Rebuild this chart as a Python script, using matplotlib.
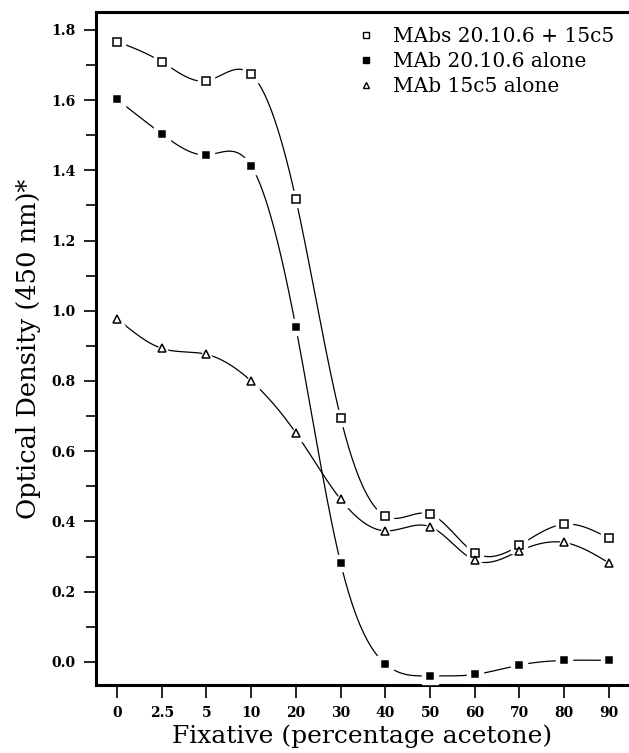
import numpy as np
import matplotlib
matplotlib.use("Agg")
import matplotlib.pyplot as plt
from matplotlib.lines import Line2D
from matplotlib.ticker import MultipleLocator

# fixative concentrations (categorical, evenly spaced on the plot)
fixative = ["0", "2.5", "5", "10", "20", "30", "40", "50", "60", "70", "80", "90"]

both_mabs = [1.767, 1.709, 1.655, 1.674, 1.318, 0.696, 0.415, 0.421, 0.311, 0.332, 0.392, 0.352]
mab_20106 = [1.602, 1.504, 1.444, 1.413, 0.953, 0.282, -0.006, -0.040, -0.036, -0.009, 0.004, 0.004]
mab_15c5 = [0.978, 0.893, 0.876, 0.800, 0.652, 0.463, 0.373, 0.385, 0.289, 0.316, 0.340, 0.282]

labels = ["MAbs 20.10.6 + 15c5", "MAb 20.10.6 alone", "MAb 15c5 alone"]

serif = "DejaVu Serif"


def natural_spline(x, y, per_seg=40):
    x = np.asarray(x, float)
    y = np.asarray(y, float)
    n = len(x)
    h = np.diff(x)
    A = np.zeros((n, n))
    b = np.zeros(n)
    A[0, 0] = 1
    A[-1, -1] = 1
    for i in range(1, n - 1):
        A[i, i - 1] = h[i - 1]
        A[i, i] = 2 * (h[i - 1] + h[i])
        A[i, i + 1] = h[i]
        b[i] = 6 * ((y[i + 1] - y[i]) / h[i] - (y[i] - y[i - 1]) / h[i - 1])
    M = np.linalg.solve(A, b)
    xs, ys = [], []
    for i in range(n - 1):
        t = np.linspace(x[i], x[i + 1], per_seg)
        a = x[i + 1] - t
        c = t - x[i]
        s = (M[i] * a ** 3 + M[i + 1] * c ** 3) / (6 * h[i]) \
            + (y[i] / h[i] - M[i] * h[i] / 6) * a \
            + (y[i + 1] / h[i] - M[i + 1] * h[i] / 6) * c
        xs.append(t)
        ys.append(s)
    return np.concatenate(xs), np.concatenate(ys)


fig = plt.figure(figsize=(6.29, 7.53), dpi=100)
ax = fig.add_axes([0.1526, 0.0903, 0.8474, 0.8937])

xpos = np.arange(len(fixative))
series = [
    (both_mabs, dict(marker="s", mfc="white", ms=5.6)),
    (mab_20106, dict(marker="s", mfc="black", ms=5.0)),
    (mab_15c5, dict(marker="^", mfc="white", ms=6.2)),
]

for vals, st in series:
    sx, sy = natural_spline(xpos, vals)
    ax.plot(sx, sy, color="black", lw=0.9, zorder=2)

# white halos so the curves stop short of the markers
for vals, st in series:
    ax.plot(xpos, vals, ls="none", marker=st["marker"], ms=st["ms"] + 6,
            mfc="white", mec="white", zorder=3)
for vals, st in series:
    ax.plot(xpos, vals, ls="none", marker=st["marker"], ms=st["ms"],
            mfc=st["mfc"], mec="black", mew=1.1, zorder=4)

ax.set_xlim(-0.47, 11.45)
ax.set_ylim(-0.066, 1.851)
ax.set_xticks(xpos)
ax.set_xticklabels(fixative)
ax.yaxis.set_major_locator(MultipleLocator(0.2))
ax.yaxis.set_minor_locator(MultipleLocator(0.1))
ax.yaxis.set_major_formatter(matplotlib.ticker.FormatStrFormatter("%.1f"))

for lab in ax.get_xticklabels() + ax.get_yticklabels():
    lab.set_fontfamily(serif)
    lab.set_fontweight("bold")
    lab.set_fontsize(10)

ax.tick_params(axis="both", which="major", direction="out", length=9, width=1.2, pad=6)
ax.tick_params(axis="y", which="minor", direction="out", length=7, width=1.2)
ax.spines["right"].set_visible(False)
for s in ["left", "bottom", "top"]:
    ax.spines[s].set_linewidth(2.2)

ax.set_xlabel("Fixative (percentage acetone)", fontsize=18, family=serif, labelpad=3)
ax.set_ylabel("Optical Density (450 nm)*", fontsize=18.5, family=serif, labelpad=7)

handles = [
    Line2D([], [], ls="none", marker="s", mfc="white", mec="black", ms=4.5, mew=1),
    Line2D([], [], ls="none", marker="s", mfc="black", mec="black", ms=4.5, mew=1),
    Line2D([], [], ls="none", marker="^", mfc="white", mec="black", ms=4.5, mew=1),
]
ax.legend(handles, labels, loc="upper right", bbox_to_anchor=(1.0, 1.0), frameon=False,
          prop={"family": serif, "size": 14.5}, handlelength=0.8,
          handletextpad=0.9, labelspacing=0.3, borderaxespad=0.35)

fig.savefig("out.png", dpi=100)
